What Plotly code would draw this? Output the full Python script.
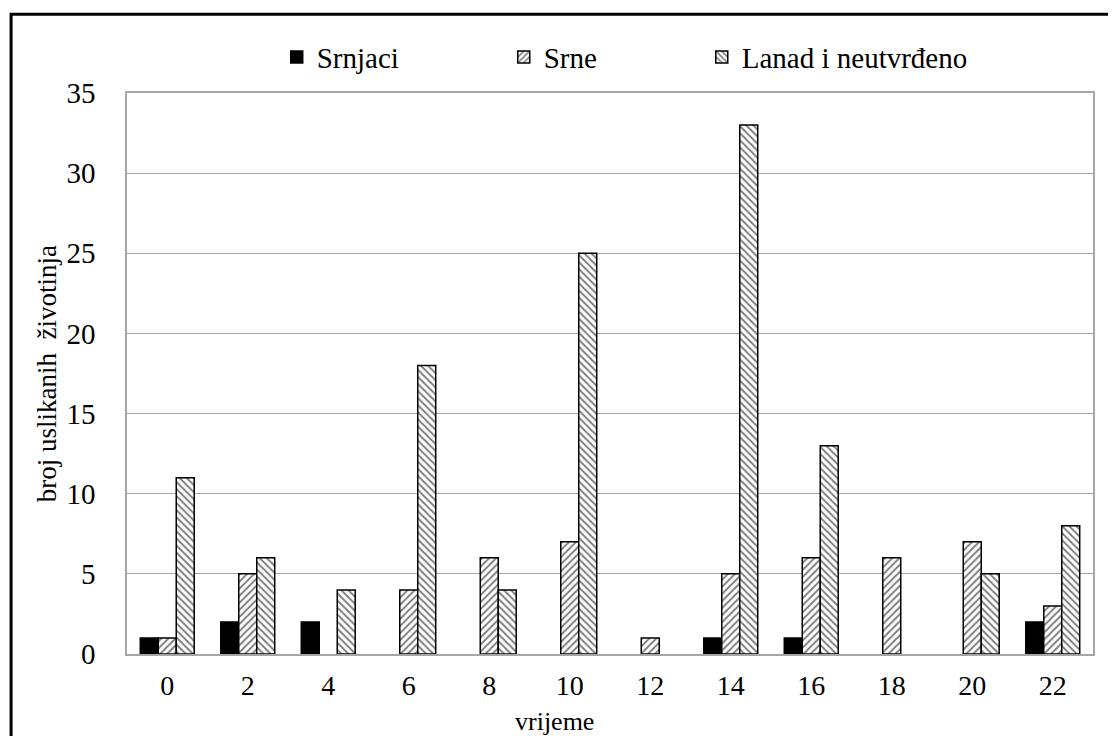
import plotly.graph_objects as go

categories = ["0", "2", "4", "6", "8", "10", "12", "14", "16", "18", "20", "22"]
srnjaci = [1, 2, 2, 0, 0, 0, 0, 1, 1, 0, 0, 2]
srne = [1, 5, 0, 4, 6, 7, 1, 5, 6, 6, 7, 3]
lanad = [11, 6, 4, 18, 4, 25, 0, 33, 13, 0, 5, 8]
y_ticks = [0, 5, 10, 15, 20, 25, 30, 35]

FONT = "Liberation Serif"


def outline_widths(values, w=1.5):
    # no outline on empty (zero-height) bars
    return [w if v else 0 for v in values]


fig = go.Figure()
fig.add_trace(go.Bar(
    x=categories, y=srnjaci, name="Srnjaci", legend="legend",
    marker=dict(color="black", line=dict(color="black", width=outline_widths(srnjaci))),
))
fig.add_trace(go.Bar(
    x=categories, y=srne, name="Srne", legend="legend2",
    marker=dict(color="white", line=dict(color="black", width=outline_widths(srne)),
                pattern=dict(shape="/", fgcolor="black", bgcolor="white", size=5, solidity=0.4)),
))
fig.add_trace(go.Bar(
    x=categories, y=lanad, name="Lanad i neutvrđeno", legend="legend3",
    marker=dict(color="white", line=dict(color="black", width=outline_widths(lanad)),
                pattern=dict(shape="\\", fgcolor="black", bgcolor="white", size=5, solidity=0.4)),
))

leg_common = dict(orientation="h", xanchor="left", y=1.064, yanchor="middle",
                  font=dict(family=FONT, size=29, color="black"),
                  bgcolor="rgba(0,0,0,0)")

fig.update_layout(
    width=1116, height=736,
    margin=dict(l=119, r=31, t=85, b=90),
    paper_bgcolor="white", plot_bgcolor="white",
    barmode="group", bargap=0.33, bargroupgap=0,
    font=dict(family=FONT, size=28, color="black"),
    showlegend=True,
    legend=dict(x=0.155, **leg_common),
    legend2=dict(x=0.39, **leg_common),
    legend3=dict(x=0.595, **leg_common),
    xaxis=dict(
        type="category", showgrid=False, showline=True, linecolor="#a6a6a6", linewidth=1.5,
        mirror=True, ticks="", tickfont=dict(family=FONT, size=28), ticklabelstandoff=6,
    ),
    yaxis=dict(
        range=[0, 35], tickvals=y_ticks, showgrid=True, gridcolor="#a6a6a6", gridwidth=1,
        showline=True, linecolor="#a6a6a6", linewidth=1.5, mirror=True, ticks="",
        zeroline=False, tickfont=dict(family=FONT, size=29), ticklabelstandoff=24,
    ),
    annotations=[
        dict(text="vrijeme", xref="paper", yref="paper", x=0.443, y=-0.12,
             xanchor="center", yanchor="middle", showarrow=False,
             font=dict(family=FONT, size=26, color="black")),
        dict(text="broj uslikanih  životinja", xref="paper", yref="paper", x=-0.083, y=0.5,
             xanchor="center", yanchor="middle", showarrow=False, textangle=-90,
             font=dict(family=FONT, size=27, color="black")),
    ],
)

fig.add_shape(type="rect", xref="paper", yref="paper",
              x0=-0.12, x1=1.06, y0=-0.25, y1=1.1405,
              line=dict(color="black", width=3), fillcolor="rgba(0,0,0,0)", layer="above")

fig.write_html("out.html")
